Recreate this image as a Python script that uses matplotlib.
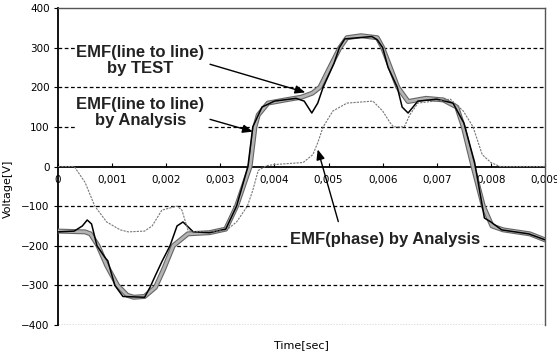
import matplotlib
matplotlib.use("Agg")
import matplotlib.pyplot as plt
from matplotlib.ticker import FuncFormatter

# Data (time in seconds, voltage in V)
t_test = [0, 0.0005, 0.0006, 0.00074, 0.0009, 0.0011, 0.00128, 0.0014, 0.0016, 0.0018,
          0.00195, 0.00213, 0.0024, 0.0028, 0.0031, 0.0033, 0.00355, 0.00364, 0.0037,
          0.00388, 0.0042, 0.0045, 0.0047, 0.00484, 0.00495, 0.00506, 0.00521, 0.00534,
          0.0056, 0.0059, 0.006, 0.00628, 0.00647, 0.0068, 0.00712, 0.00737, 0.00749,
          0.00767, 0.00786, 0.00802, 0.00823, 0.00872, 0.009]
v_test = [-163, -165, -170, -200, -250, -300, -325, -330, -328, -305,
          -260, -200, -170, -167, -158, -100, 0, 100, 130,
          160, 168, 175, 185, 200, 230, 260, 300, 325,
          330, 325, 300, 200, 164, 172, 168, 150, 100,
          0, -100, -150, -160, -170, -185]

t_ana = [0, 0.0003, 0.00045, 0.00054, 0.00062, 0.00072, 0.00087, 0.00092, 0.00105, 0.0012,
         0.0016, 0.0017, 0.0018, 0.00192, 0.00207, 0.0022, 0.00231, 0.0025, 0.0028, 0.0031,
         0.0033, 0.00351, 0.0036, 0.00377, 0.0040, 0.0044, 0.00455, 0.00469, 0.0048, 0.0049,
         0.0051, 0.0052, 0.0053, 0.0058, 0.0059, 0.006, 0.0061, 0.00627, 0.00636, 0.00647,
         0.00665, 0.0070, 0.0073, 0.0075, 0.0077, 0.00788, 0.0080, 0.0082, 0.0087, 0.009]
v_ana = [-165, -163, -150, -135, -145, -200, -230, -238, -300, -328,
         -330, -305, -275, -240, -200, -150, -140, -165, -167, -158,
         -100, 0, 100, 150, 165, 172, 165, 135, 160, 200,
         260, 300, 322, 328, 320, 300, 250, 200, 150, 135,
         165, 170, 160, 110, 10, -130, -140, -160, -170, -185]

t_ph = [0, 0.0003, 0.0005, 0.00068, 0.0009, 0.00115, 0.0013, 0.0016, 0.00174, 0.00192,
        0.0022, 0.00229, 0.0024, 0.0025, 0.0031, 0.0033, 0.0035, 0.0036, 0.0037, 0.00385,
        0.0040, 0.00453, 0.00471, 0.0048, 0.0049, 0.00508, 0.00534, 0.00582, 0.006, 0.00614,
        0.0062, 0.0064, 0.0065, 0.00665, 0.00725, 0.00749, 0.00767, 0.00784, 0.008, 0.00817,
        0.009]
v_ph = [0, 0, -40, -100, -140, -160, -165, -163, -150, -110,
        -100, -110, -160, -165, -162, -140, -100, -60, -10, 2,
        5, 10, 30, 60, 100, 140, 160, 165, 140, 110,
        100, 100, 130, 160, 170, 140, 100, 30, 10, 0,
        0]

x_ticks = [0, 0.001, 0.002, 0.003, 0.004, 0.005, 0.006, 0.007, 0.008, 0.009]
y_ticks = [-400, -300, -200, -100, 0, 100, 200, 300, 400]

label_test = "EMF(line to line)\nby TEST"
label_ana = "EMF(line to line)\nby Analysis"
label_ph = "EMF(phase) by Analysis"

fig = plt.figure(figsize=(5.57, 3.52), dpi=100)
ax = fig.add_axes([58/557, 1-325/352, 487/557, 317/352])
ax.set_xlim(0, 0.009)
ax.set_ylim(-400, 400)

# grid lines
for y in y_ticks:
    if y in (0, 400, -400):
        continue
    ax.axhline(y, color='black', lw=0.9, ls=(0, (3, 2)), zorder=1)
ax.axhline(-400, color='#555555', lw=1.0, ls=(0, (1, 1)), zorder=1)

# spines
ax.spines['left'].set_linewidth(1.3)
ax.spines['bottom'].set_position(('data', 0))
ax.spines['bottom'].set_linewidth(1.3)
ax.spines['bottom'].set_zorder(2)
for s in ('top', 'right'):
    ax.spines[s].set_linestyle((0, (1, 1)))
    ax.spines[s].set_color('#555555')
    ax.spines[s].set_linewidth(1.0)

ax.set_xticks(x_ticks)
ax.set_yticks(y_ticks)
ax.xaxis.set_major_formatter(FuncFormatter(lambda v, p: "0" if v == 0 else f"{v:.3f}".replace('.', ',')))
ax.tick_params(axis='x', direction='in', length=3, pad=6, labelsize=7.5)
ax.tick_params(axis='y', direction='out', length=3, pad=3, labelsize=7.5)

# curves
ax.plot(t_test, v_test, color='#666666', lw=3.6, zorder=3, solid_joinstyle='round')
ax.plot(t_test, v_test, color='#b4b4b4', lw=2.0, zorder=3, solid_joinstyle='round')
ax.plot(t_ana, v_ana, color='black', lw=1.1, zorder=4)
ax.plot(t_ph, v_ph, color='#777777', lw=0.8, ls=(0, (2, 1)), zorder=4)

ax.set_xlabel("Time[sec]", fontsize=8)
ax.xaxis.set_label_coords(0.5, -0.048)
ax.set_ylabel("Voltage[V]", fontsize=8)
ax.yaxis.set_label_coords(-0.092, 0.43)

tkw = dict(fontsize=12, family='Liberation Sans', fontweight='bold', color='#222222',
           ha='center', va='center', linespacing=1.1, zorder=5,
           bbox=dict(facecolor='white', edgecolor='none', pad=1))
ax.text(0.00152, 268, label_test, **tkw)
ax.text(0.00152, 136, label_ana, **tkw)
ax.text(0.00604, -184, label_ph, **tkw)

akw = dict(arrowstyle='-|>,head_length=0.6,head_width=0.25', color='black', lw=1.0,
           shrinkA=0, shrinkB=0)
ax.annotate('', xy=(0.00457, 187), xytext=(0.00281, 258), arrowprops=akw, zorder=6)
ax.annotate('', xy=(0.0036, 88), xytext=(0.00281, 119), arrowprops=akw, zorder=6)
ax.annotate('', xy=(0.0048, 43), xytext=(0.00518, -139), arrowprops=akw, zorder=6)

fig.savefig("out.png", dpi=100)
